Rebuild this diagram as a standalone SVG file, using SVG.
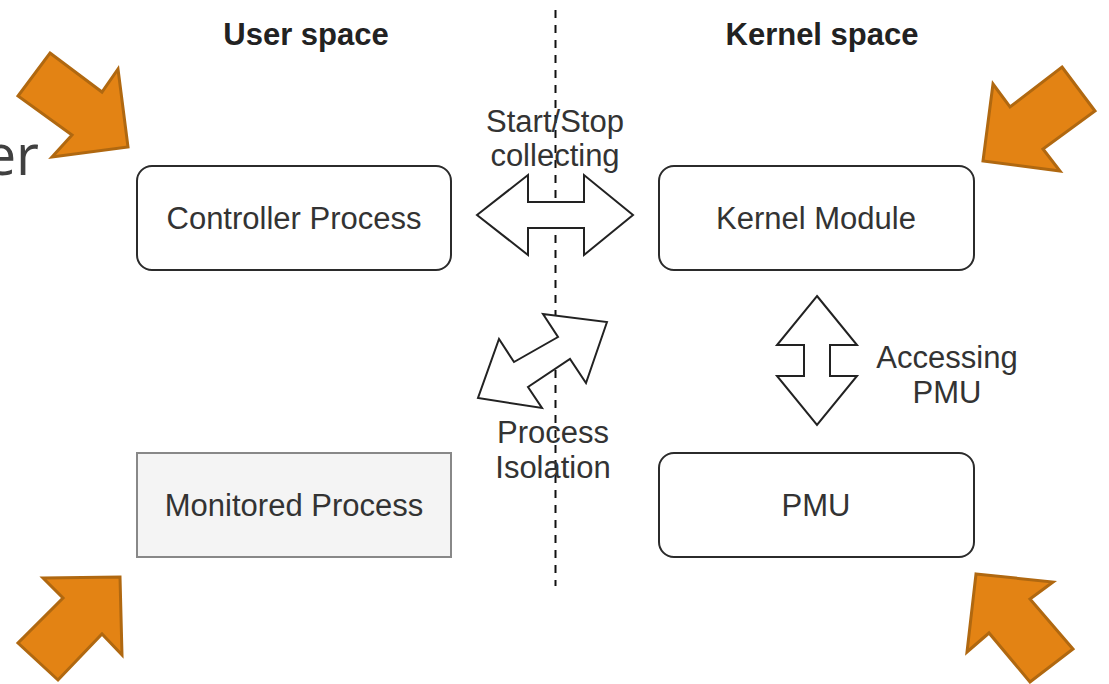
<svg xmlns="http://www.w3.org/2000/svg" width="1109" height="684" viewBox="0 0 1109 684">
<style>
.bg{fill:#ffffff}
.title{font-family:"Liberation Sans",Arial,sans-serif;font-size:31px;font-weight:bold;fill:#222;text-anchor:middle}
.lbl{font-family:"Liberation Sans",Arial,sans-serif;font-size:31px;fill:#333;text-anchor:middle}
.box{fill:#ffffff;stroke:#2b2b2b;stroke-width:2}
.mon{fill:#f4f4f4;stroke:#888;stroke-width:2}
.dbl{fill:#ffffff;stroke:#222;stroke-width:2;stroke-linejoin:miter}
.orange{fill:#e38314;stroke:#b06810;stroke-width:3;stroke-linejoin:miter}
.big{font-family:"Open Sans","Noto Sans",sans-serif;font-size:56px;fill:#404040;text-anchor:end}
</style>
<rect class="bg" x="0" y="0" width="1109" height="684"/>
<text class="big" x="39" y="175">er</text>
<text class="title" x="306" y="45">User space</text>
<text class="title" x="822" y="45">Kernel space</text>
<line x1="555.5" y1="10" x2="555.5" y2="586" stroke="#111" stroke-width="2" stroke-dasharray="8 7"/>
<g id="connectors">
<polygon class="dbl" points="477,215 528,175 528,202 584,202 584,175 633,215 584,255 584,228 528,228 528,255"/>
<polygon class="dbl" points="607,322 586,383 570,359 528,387 542,408 478,398 499,339 514,362 558,337 543,314"/>
<polygon class="dbl" points="817,296 857,345 830,345 830,376 857,376 817,425 777,376 804,376 804,345 777,345"/>
<text class="lbl" x="555" y="132">Start/Stop</text>
<text class="lbl" x="555" y="166">collecting</text>
<text class="lbl" x="553" y="443">Process</text>
<text class="lbl" x="553" y="478">Isolation</text>
<text class="lbl" x="947" y="368">Accessing</text>
<text class="lbl" x="947" y="403">PMU</text>
</g>
<g id="controller">
<rect class="box" x="137" y="166" width="314" height="104" rx="15"/>
<text class="lbl" x="294" y="229">Controller Process</text>
</g>
<g id="kernel-module">
<rect class="box" x="659" y="166" width="315" height="104" rx="15"/>
<text class="lbl" x="816" y="229">Kernel Module</text>
</g>
<g id="monitored">
<rect class="mon" x="137" y="453" width="314" height="104"/>
<text class="lbl" x="294" y="516" fill="#444">Monitored Process</text>
</g>
<g id="pmu">
<rect class="box" x="659" y="453" width="315" height="104" rx="15"/>
<text class="lbl" x="816" y="516">PMU</text>
</g>
<g id="orange-arrows">
<polygon class="orange" points="50,53 102,92 118,69 128,147 52,157 72,135 18,96"/>
<polygon class="orange" points="1062,67 1095,111 1043,149 1060,171 983,161 993,84 1010,107"/>
<polygon class="orange" points="43,578 120,577 122,655 102,634 58,680 18,643 63,598"/>
<polygon class="orange" points="976,574 1053,582 1030,599 1073,649 1030,682 989,633 967,652"/>
</g>
</svg>
